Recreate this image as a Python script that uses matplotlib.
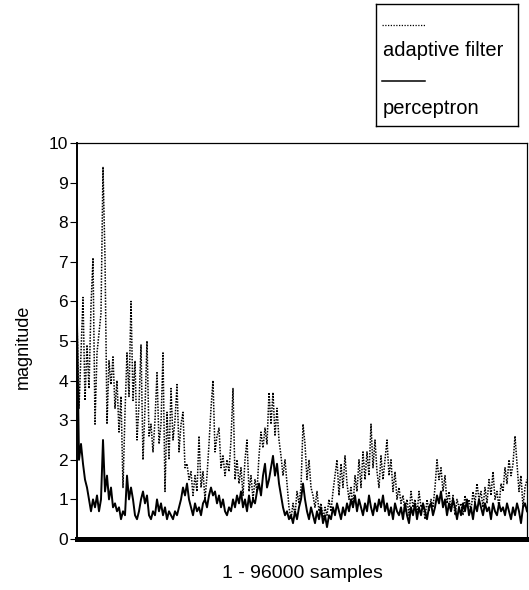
import numpy as np
import matplotlib
matplotlib.use("Agg")
import matplotlib.pyplot as plt

plt.rcParams['font.family'] = ['Liberation Sans', 'DejaVu Sans']

# ----- data (evenly spaced over 1 - 96000 samples) -----
adaptive_filter = [
    5.5, 3.3, 4.7, 6.1, 3.5, 4.9, 3.8, 5.9, 7.1, 2.9, 4.7, 5.2,
    5.7, 9.4, 7.1, 2.9, 4.5, 3.9, 4.6, 3.3, 4.0, 2.7, 3.6, 1.3,
    3.2, 4.7, 3.6, 6.0, 3.5, 4.5, 2.5, 3.4, 4.9, 2.0, 3.3, 5.0,
    2.6, 2.9, 2.2, 3.0, 4.2, 2.4, 2.9, 4.7, 1.2, 3.2, 2.0, 3.8,
    2.5, 3.0, 3.9, 2.2, 2.9, 3.2, 1.8, 1.9, 1.5, 1.7, 1.1, 1.6,
    1.2, 2.6, 1.3, 1.7, 1.0, 1.6, 2.4, 3.3, 4.0, 2.2, 2.6, 2.8,
    1.8, 2.1, 1.6, 2.0, 1.7, 2.5, 3.8, 1.5, 2.0, 1.4, 1.8, 1.1,
    2.0, 2.5, 1.2, 1.6, 1.0, 1.5, 1.2, 2.1, 2.7, 2.3, 2.8, 2.4,
    3.7, 2.9, 3.7, 2.6, 3.3, 2.5, 2.1, 1.6, 2.0, 1.4, 0.8, 0.5,
    0.9, 0.6, 1.2, 0.9, 1.3, 2.9, 2.4, 1.5, 2.0, 1.3, 1.1, 0.8,
    1.2, 0.7, 0.9, 0.5, 0.8, 0.6, 1.0, 0.7, 1.2, 1.6, 2.0, 1.1,
    1.9, 1.3, 2.1, 1.4, 1.0, 1.3, 0.8, 1.6, 1.2, 2.0, 1.3, 2.2,
    1.5, 2.2, 1.6, 2.9, 1.8, 2.5, 1.7, 1.3, 2.1, 1.5, 2.0, 2.5,
    1.6, 2.0, 1.2, 1.7, 1.0, 1.3, 0.9, 1.1, 0.7, 1.0, 0.6, 1.2,
    0.8, 1.0, 0.6, 1.2, 0.8, 0.9, 0.5, 1.0, 0.7, 1.0, 0.8, 1.3,
    2.0, 1.5, 1.8, 1.2, 1.6, 0.9, 1.2, 0.7, 1.1, 0.6, 1.0, 0.8,
    0.9, 0.6, 1.1, 0.8, 1.0, 0.7, 1.2, 0.9, 1.4, 1.0, 1.2, 0.8,
    1.3, 0.9, 1.5, 1.1, 1.7, 1.0, 1.2, 0.8, 1.4, 1.2, 1.8, 1.4,
    2.0, 1.6, 1.9, 2.6, 1.9, 1.2, 1.6, 0.8, 1.3, 1.5,
]

perceptron = [
    5.5, 2.0, 2.4, 1.9, 1.5, 1.3, 1.0, 0.7, 1.0, 0.8, 1.1, 0.7,
    1.0, 2.5, 1.2, 1.6, 1.0, 1.3, 0.8, 0.9, 0.7, 0.8, 0.5, 0.7,
    0.6, 1.6, 1.0, 1.3, 1.0, 0.6, 0.5, 0.7, 1.0, 1.2, 0.9, 1.1,
    0.6, 0.5, 0.7, 0.6, 1.0, 0.7, 0.9, 0.6, 0.8, 0.5, 0.7, 0.6,
    0.5, 0.7, 0.6, 0.8, 1.0, 1.3, 1.1, 1.4, 1.0, 0.8, 0.6, 0.9,
    0.7, 0.8, 0.6, 0.9, 1.0, 0.8, 1.1, 1.3, 1.1, 1.2, 0.9, 1.1,
    0.8, 1.0, 0.7, 0.6, 0.8, 0.7, 1.0, 0.8, 1.1, 0.9, 1.2, 0.8,
    1.0, 0.7, 1.1, 0.8, 1.0, 0.9, 1.2, 1.4, 1.1, 1.6, 1.9, 1.3,
    1.5, 1.8, 2.1, 1.6, 1.9, 1.4, 1.1, 0.8, 0.6, 0.7, 0.5, 0.6,
    0.4, 0.7, 0.5, 0.8, 1.0, 1.4, 1.0, 0.7, 0.5, 0.8, 0.6, 0.4,
    0.7, 0.5, 0.8, 0.4, 0.6, 0.3, 0.6, 0.5, 0.8, 0.6, 0.9, 0.7,
    0.5, 0.8, 0.6, 0.9, 0.7, 1.0, 0.8, 1.1, 0.7, 1.0, 0.8, 0.6,
    0.9, 0.7, 1.1, 0.8, 0.6, 0.9, 0.7, 1.0, 0.8, 1.1, 0.7, 0.9,
    0.6, 0.8, 0.5, 0.9, 0.7, 0.6, 0.8, 0.5, 0.9, 0.6, 0.4, 0.8,
    0.6, 0.9, 0.5, 0.8, 0.6, 0.9, 0.7, 0.5, 0.8, 0.9, 0.6, 0.8,
    1.1, 0.9, 1.2, 0.8, 1.0, 0.6, 0.9, 0.7, 1.0, 0.8, 0.5, 0.8,
    0.6, 0.9, 0.7, 1.0, 0.6, 0.8, 0.5, 0.9, 0.7, 1.0, 0.8, 0.6,
    0.9, 0.7, 0.8, 0.5, 0.9, 0.7, 0.6, 0.9, 0.7, 0.8, 0.6, 0.9,
    0.7, 0.5, 0.8, 0.6, 0.9, 0.7, 0.4, 0.8, 0.9, 0.7,
]

N_SAMPLES = 96000
Y_TICKS = list(range(0, 11))
X_LABEL = "1 - 96000 samples"
Y_LABEL = "magnitude"
LABELS = ["adaptive filter", "perceptron"]
# ------------------------------------------------------------------------------

W, H = 529, 590
fig = plt.figure(figsize=(W / 100, H / 100), dpi=100)

# main axes, placed in pixel terms of the reference
ax = fig.add_axes([77 / W, 1 - 539 / H, 450 / W, 396 / H])

x_af = np.linspace(1, N_SAMPLES, len(adaptive_filter))
x_pc = np.linspace(1, N_SAMPLES, len(perceptron))
ax.plot(x_af, adaptive_filter, color="black", lw=1.1, linestyle=(0, (1, 0.9)))
ax.plot(x_pc, perceptron, color="black", lw=1.4)

ax.set_xlim(1, N_SAMPLES)
ax.set_ylim(0, 10)
ax.set_yticks(Y_TICKS)
ax.set_xticks([])
ax.tick_params(axis="y", direction="out", length=5, width=0.8, pad=1.5, labelsize=12.5)

for side in ["top", "right"]:
    ax.spines[side].set_linewidth(0.9)
ax.spines["left"].set_linewidth(1.4)
ax.spines["bottom"].set_linewidth(3.6)

ax.set_xlabel(X_LABEL, fontsize=14)
ax.xaxis.set_label_coords(0.5, -0.065)
ax.set_ylabel(Y_LABEL, fontsize=13)
ax.yaxis.set_label_coords(-0.10, 0.485)

# legend box: line sample above each label, as in the reference
lg = fig.add_axes([376 / W, 1 - 126 / H, 142 / W, 122 / H])
lg.set_xlim(0, 142)
lg.set_ylim(122, 0)
lg.set_xticks([])
lg.set_yticks([])
for s in lg.spines.values():
    s.set_linewidth(1.0)
lg.plot([6, 49], [21, 21], color="black", lw=0.9, linestyle=(0, (1, 1.2)))
lg.text(7, 46, LABELS[0], fontsize=14.5, va="center", ha="left")
lg.plot([6, 49], [77, 77], color="black", lw=1.1)
lg.text(7, 104, LABELS[1], fontsize=14.5, va="center", ha="left")

plt.savefig("out.png", dpi=100)
